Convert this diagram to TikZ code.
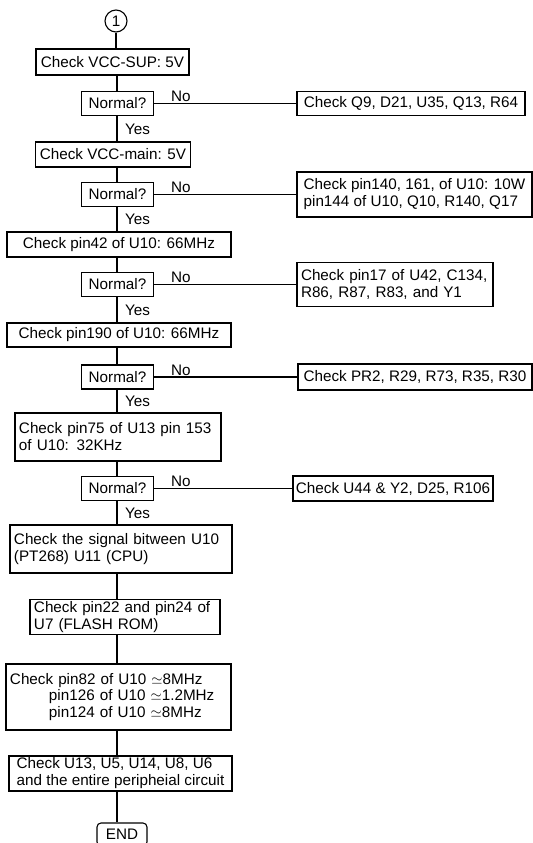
\documentclass[tikz,border=0pt]{standalone}
\usepackage{fontspec}
\setmainfont{Liberation Sans}
\usetikzlibrary{calc}
\tikzset{
  txt/.style={font=\fontsize{15.3}{17}\selectfont},
  bx/.style={txt, draw, line width=1.1bp, inner xsep=4bp, inner ysep=0bp},
  nbox/.style={bx, minimum width=72bp, minimum height=24bp},
  ln/.style={line width=1.1bp},
  lbl/.style={txt, inner sep=0bp},
}
\begin{document}
\begin{tikzpicture}[x=1bp,y=-1bp]
\useasboundingbox (0,0) rectangle (533,843);
\clip (0,0) rectangle (533,843);
\coordinate (sp) at (117,0);

\node[bx, circle, inner sep=0bp, minimum size=22bp] (c1) at (116,21) {1};

\node[bx, minimum width=153bp, minimum height=26bp] (b1) at (112.5,62) {Check VCC-SUP: 5V};
\node[nbox] (n1) at (117.5,103.5) {Normal?};
\node[bx, minimum width=228bp, minimum height=24bp] (r1) at (411,103.5) {Check Q9, D21, U35, Q13, R64};

\node[bx, minimum width=154bp, minimum height=25bp] (b2) at (113,154.5) {Check VCC-main: 5V};
\node[nbox] (n2) at (117.5,194.5) {Normal?};
\node[bx, inner xsep=3bp, minimum width=235bp, minimum height=45bp, align=left] (r2) at (414.5,194.5) {Check pin140, 161, of U10: 10W\\pin144 of U10, Q10, R140, Q17};

\node[bx, minimum width=224bp, minimum height=25bp] (b3) at (119,244.5) {Check pin42 of U10: 66MHz};
\node[nbox] (n3) at (117.5,284.5) {Normal?};
\node[bx, minimum width=196bp, minimum height=44bp, text width=188bp, align=left] (r3) at (395,284.5) {Check pin17 of U42, C134,\\R86, R87, R83, and Y1};

\node[bx, minimum width=224bp, minimum height=24bp] (b4) at (119,335) {Check pin190 of U10: 66MHz};
\node[nbox] (n4) at (117.5,377) {Normal?};
\node[bx, inner xsep=3bp, minimum width=234bp, minimum height=26bp] (r4) at (415,377) {Check PR2, R29, R73, R35, R30};

\node[bx, minimum width=206bp, minimum height=48bp, text width=198bp, align=left] (b5) at (118,437) {Check pin75 of U13 pin 153\\of U10: 32KHz};
\node[nbox] (n5) at (117.5,488.5) {Normal?};
\node[bx, inner xsep=3bp, minimum width=200bp, minimum height=25bp] (r5) at (393,488.5) {Check U44 \& Y2, D25, R106};

\node[bx, minimum width=222bp, minimum height=48bp, text width=214bp, align=left] (b6) at (121,549) {Check the signal bitween U10\\(PT268) U11 (CPU)};
\node[bx, minimum width=190bp, minimum height=35bp, text width=182bp, align=left] (b7) at (125,617) {Check pin22 and pin24 of\\U7 (FLASH ROM)};
\node[bx, minimum width=225bp, minimum height=66bp, text width=217bp, align=left] (b8) at (118.5,697) {Check pin82 of U10 $\simeq$8MHz\\\hspace*{39bp}pin126 of U10 $\simeq$1.2MHz\\\hspace*{39bp}pin124 of U10 $\simeq$8MHz};
\node[bx, inner xsep=3bp, minimum width=223bp, minimum height=35bp, align=left] (b9) at (120.5,773.5) {Check U13, U5, U14, U8, U6\\and the entire peripheial circuit};
\node[bx, rounded corners=4bp, minimum width=50bp, minimum height=23bp] (e1) at (122,834.5) {END};

% vertical connectors
\draw[ln] (c1.south) -- (c1.south |- b1.north);
\draw[ln] (b1.south -| sp) -- (n1.north -| sp);
\draw[ln] (n1.south -| sp) -- (b2.north -| sp);
\draw[ln] (b2.south -| sp) -- (n2.north -| sp);
\draw[ln] (n2.south -| sp) -- (b3.north -| sp);
\draw[ln] (b3.south -| sp) -- (n3.north -| sp);
\draw[ln] (n3.south -| sp) -- (b4.north -| sp);
\draw[ln] (b4.south -| sp) -- (n4.north -| sp);
\draw[ln] (n4.south -| sp) -- (b5.north -| sp);
\draw[ln] (b5.south -| sp) -- (n5.north -| sp);
\draw[ln] (n5.south -| sp) -- (b6.north -| sp);
\draw[ln] (b6.south -| sp) -- (b7.north -| sp);
\draw[ln] (b7.south -| sp) -- (b8.north -| sp);
\draw[ln] (b8.south -| sp) -- (b9.north -| sp);
\draw[ln] (b9.south -| sp) -- (e1.north -| sp);

% horizontal connectors
\draw[ln] (n1.east) -- (r1.west);
\draw[ln] (n2.east) -- (r2.west);
\draw[ln] (n3.east) -- (r3.west);
\draw[ln] (n4.east) -- (r4.west);
\draw[ln] (n5.east) -- (r5.west);

% labels
\node[lbl, anchor=south west] at (171,102) {No};
\node[lbl, anchor=south west] at (171,193) {No};
\node[lbl, anchor=south west] at (171,283) {No};
\node[lbl, anchor=south west] at (171,375.5) {No};
\node[lbl, anchor=south west] at (171,487) {No};

\node[lbl, anchor=west] at (125,129) {Yes};
\node[lbl, anchor=west] at (125,219.5) {Yes};
\node[lbl, anchor=west] at (125,310) {Yes};
\node[lbl, anchor=west] at (125,401.5) {Yes};
\node[lbl, anchor=west] at (125,513) {Yes};
\end{tikzpicture}
\end{document}
